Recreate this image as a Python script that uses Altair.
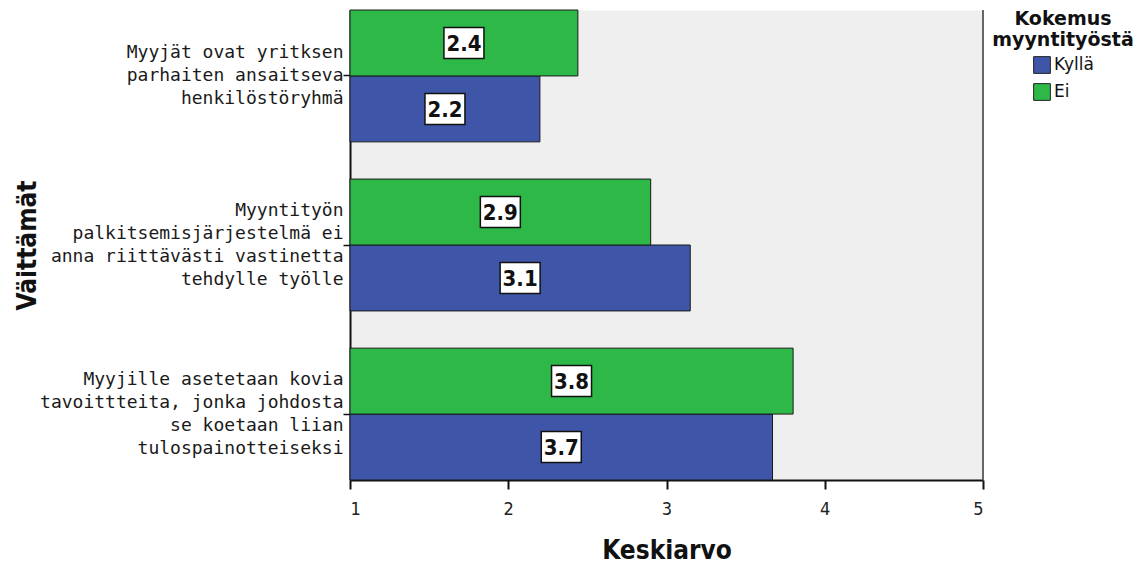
import altair as alt
import pandas as pd

statements = [
    "Myyjät ovat yritksen|parhaiten ansaitseva|henkilöstöryhmä",
    "Myyntityön|palkitsemisjärjestelmä ei|anna riittävästi vastinetta|tehdylle työlle",
    "Myyjille asetetaan kovia|tavoittteita, jonka johdosta|se koetaan liian|tulospainotteiseksi",
]
groups = ["Kyllä", "Ei"]
kylla_values = [2.20, 3.15, 3.67]
ei_values = [2.44, 2.90, 3.80]
kylla_labels = ["2.2", "3.1", "3.7"]
ei_labels = ["2.4", "2.9", "3.8"]
x_ticks = [1, 2, 3, 4, 5]

rows = []
for s, v, l in zip(statements, kylla_values, kylla_labels):
    rows.append({"statement": s, "group": "Kyllä", "value": v, "label": l})
for s, v, l in zip(statements, ei_values, ei_labels):
    rows.append({"statement": s, "group": "Ei", "value": v, "label": l})
df = pd.DataFrame(rows)

BLUE = "#3F56A8"
GREEN = "#2EB848"
MONO = "DejaVu Sans Mono"
FONT = "DejaVu Sans"
COND = "DejaVu Sans Condensed"
LINE_H = 23

y_enc = alt.Y(
    "statement:N",
    sort=statements,
    scale=alt.Scale(paddingInner=0.22, paddingOuter=0),
    axis=alt.Axis(
        title="Väittämät",
        titleFontSize=26,
        titleFont=COND,
        titleFontWeight="bold",
        titleColor="#111",
        titleX=-310,
        titleY=235,
        labelExpr="split(datum.label, '|')",
        labelFont=MONO,
        labelFontSize=18,
        labelColor="#1a1a1a",
        labelLineHeight=LINE_H,
        labelLimit=400,
        labelPadding=0,
        labelOffset={
            "condition": {"test": "indexof(datum.value, 'Myyjät ovat') == 0", "value": -LINE_H},
            "value": -1.5 * LINE_H,
        },
        tickSize=7,
        tickColor="#111",
        tickWidth=1.5,
        domainColor="#111",
        domainWidth=2,
    ),
)
yoff_enc = alt.YOffset("group:N", sort=["Ei", "Kyllä"], scale=alt.Scale(paddingInner=0, paddingOuter=0))

x_scale = alt.Scale(domain=[1, 5], nice=False, zero=False)

bars = alt.Chart(df).mark_bar(stroke="#1a1a1a", strokeWidth=1).encode(
    x=alt.X(
        "value:Q",
        scale=x_scale,
        axis=alt.Axis(
            values=x_ticks,
            format="d",
            title="Keskiarvo",
            titleFont=COND,
            titleFontSize=26,
            titleFontWeight="bold",
            titleColor="#111",
            titlePadding=19,
            labelFont=COND,
            labelFontSize=18,
            labelColor="#222",
            labelPadding=11,
            tickSize=9,
            tickColor="#111",
            tickWidth=2,
            domainColor="#111",
            domainWidth=2,
            grid=False,
        ),
    ),
    x2=alt.datum(1),
    y=y_enc,
    yOffset=yoff_enc,
    color=alt.Color(
        "group:N",
        scale=alt.Scale(domain=groups, range=[BLUE, GREEN]),
        legend=alt.Legend(
            title=["Kokemus", "myyntityöstä"],
            titleFont=FONT,
            titleFontSize=19,
            titleFontWeight="bold",
            titleColor="#111",
            titleAlign="center",
            titleAnchor="middle",
            titleLineHeight=21,
            titlePadding=6,
            labelFont=FONT,
            labelFontSize=17,
            labelColor="#111",
            labelOffset=3,
            symbolType="square",
            symbolSize=280,
            symbolStrokeColor="#222",
            symbolStrokeWidth=1,
            symbolOffset=0,
            offset=9,
            rowPadding=5,
            padding=0,
        ),
    ),
)

boxes = alt.Chart(df).transform_calculate(mid="(datum.value + 1) / 2").mark_point(
    shape="M-1.29,-1L1.29,-1L1.29,1L-1.29,1Z",
    filled=True,
    fill="white",
    stroke="#111",
    strokeWidth=1.5,
    size=961,
    opacity=1,
).encode(
    x=alt.X("mid:Q", scale=x_scale),
    y=alt.Y("statement:N", sort=statements),
    yOffset=yoff_enc,
)

texts = alt.Chart(df).transform_calculate(mid="(datum.value + 1) / 2").mark_text(
    font=COND, fontSize=22, fontWeight="bold", color="#111", baseline="middle", align="center", dy=1
).encode(
    x=alt.X("mid:Q", scale=x_scale),
    y=alt.Y("statement:N", sort=statements),
    yOffset=yoff_enc,
    text="label:N",
)

right_rule = alt.Chart(df).mark_rule(color="#666", strokeWidth=2).encode(
    x=alt.datum(5),
    y=alt.value(0),
    y2=alt.value(470),
)

chart = (
    alt.layer(bars, boxes, texts, right_rule)
    .properties(
        width=633,
        height=470,
        autosize=alt.AutoSizeParams(type="none"),
        padding={"left": 350, "top": 10, "right": 163, "bottom": 86},
        background="white",
    )
    .configure_view(fill="#EFEFEF", stroke="transparent")
)

chart.save("out.html", embed_options={"renderer": "svg", "actions": False})
